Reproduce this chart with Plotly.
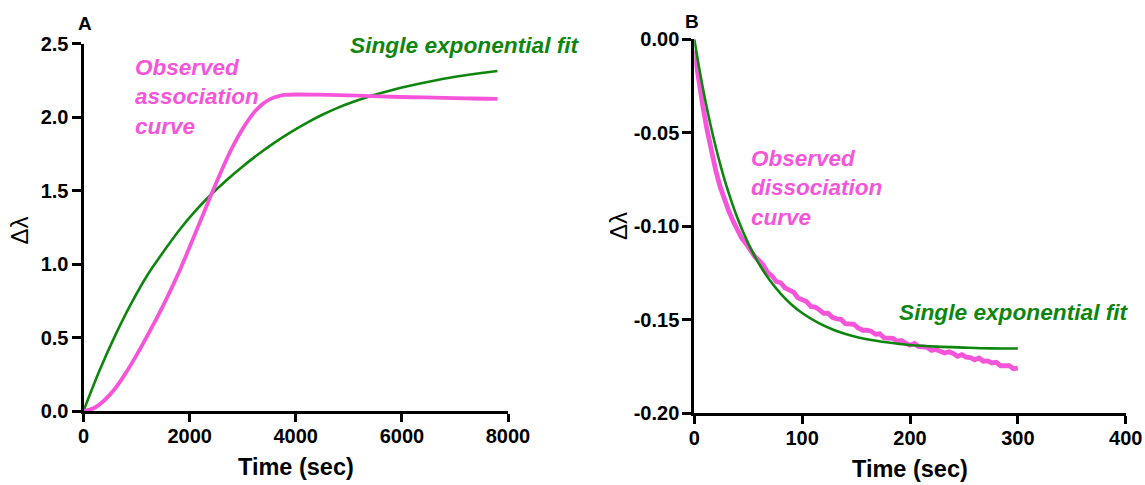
import plotly.graph_objects as go

# ---------------- Data ----------------
# Panel A: association
assoc_obs_t = [0, 200, 400, 600, 800, 1000, 1200, 1400, 1600, 1800, 2000, 2200, 2400,
               2600, 2800, 3000, 3200, 3300, 3400, 3500, 3600, 3700, 3800, 4000, 4400,
               4800, 5200, 5600, 6000, 6400, 6800, 7200, 7600, 7800]
assoc_obs_y = [0, 0.020, 0.075, 0.155, 0.26, 0.38, 0.51, 0.645, 0.79, 0.945, 1.115, 1.29, 1.465,
               1.635, 1.79, 1.92, 2.025, 2.064, 2.095, 2.118, 2.134, 2.144, 2.150, 2.153, 2.152,
               2.149, 2.145, 2.140, 2.136, 2.133, 2.130, 2.127, 2.124, 2.123]

assoc_fit_t = [0, 300, 600, 900, 1200, 1500, 1800, 2100, 2400, 2700, 3000, 3300, 3600,
               3900, 4200, 4500, 4800, 5100, 5400, 5700, 6000, 6300, 6600, 6900, 7200,
               7500, 7800]
assoc_fit_y = [0, 0.274, 0.516, 0.732, 0.922, 1.080, 1.228, 1.358, 1.471, 1.572, 1.664,
               1.748, 1.826, 1.896, 1.959, 2.015, 2.064, 2.105, 2.141, 2.172, 2.200,
               2.225, 2.247, 2.267, 2.284, 2.299, 2.313]

# Panel B: dissociation
dissoc_obs_t = [0, 4, 8, 12, 16, 20, 24, 28, 32, 36, 40, 44, 48, 52, 56, 60, 64, 68, 72, 76,
                80, 84, 88, 92, 96, 100, 104, 108, 112, 116, 120, 124, 128, 132, 136, 140,
                144, 148, 152, 156, 160, 164, 168, 172, 176, 180, 184, 188, 192, 196, 200,
                204, 208, 212, 216, 220, 224, 228, 232, 236, 240, 244, 248, 252, 256, 260,
                264, 268, 272, 276, 280, 284, 288, 292, 296, 300]
dissoc_obs_y = [-0.0060, -0.0220, -0.0360, -0.0490, -0.0605, -0.0705, -0.0790, -0.0860,
                -0.0920, -0.0973, -0.1017, -0.1065, -0.1094, -0.1133, -0.1162, -0.1184,
                -0.1209, -0.1248, -0.1266, -0.1296, -0.1303, -0.1330, -0.1342, -0.1353,
                -0.1384, -0.1396, -0.1403, -0.1430, -0.1433, -0.1448, -0.1467, -0.1466,
                -0.1488, -0.1496, -0.1499, -0.1522, -0.1521, -0.1525, -0.1545, -0.1557,
                -0.1557, -0.1562, -0.1579, -0.1576, -0.1598, -0.1596, -0.1600, -0.1616,
                -0.1612, -0.1626, -0.1637, -0.1628, -0.1645, -0.1646, -0.1649, -0.1665,
                -0.1660, -0.1670, -0.1679, -0.1672, -0.1681, -0.1697, -0.1688, -0.1701,
                -0.1703, -0.1715, -0.1706, -0.1723, -0.1721, -0.1732, -0.1728, -0.1747,
                -0.1744, -0.1747, -0.1763, -0.1760]

dissoc_fit_t = [0, 5, 10, 15, 20, 25, 30, 40, 50, 60, 70, 80, 90, 100, 115, 130, 145, 160,
                180, 200, 225, 250, 275, 300]
dissoc_fit_y = [0, -0.0169, -0.0321, -0.0457, -0.0579, -0.0689, -0.0788, -0.0956, -0.1092,
                -0.1202, -0.1290, -0.1361, -0.1419, -0.1465, -0.1518, -0.1557, -0.1585,
                -0.1605, -0.1623, -0.1636, -0.1645, -0.1650, -0.1654, -0.1655]

# Tick labels
a_xticks = [0, 2000, 4000, 6000, 8000]
a_xlabels = ["0", "2000", "4000", "6000", "8000"]
a_yticks = [0, 0.5, 1.0, 1.5, 2.0, 2.5]
a_ylabels = ["0.0", "0.5", "1.0", "1.5", "2.0", "2.5"]
b_xticks = [0, 100, 200, 300, 400]
b_xlabels = ["0", "100", "200", "300", "400"]
b_yticks = [0, -0.05, -0.10, -0.15, -0.20]
b_ylabels = ["0.00", "-0.05", "-0.10", "-0.15", "-0.20"]

# ---------------- Styling ----------------
PINK = "#F655DA"
GREEN = "#0E860E"
FONT = "Liberation Sans, Arial, sans-serif"
W, H = 1145, 485


def px(x):
    return x / W


def py(y):
    return 1 - y / H


fig = go.Figure()
fig.add_trace(go.Scatter(x=assoc_fit_t, y=assoc_fit_y, mode="lines", line_shape="spline",
                         line=dict(color=GREEN, width=2.6), xaxis="x", yaxis="y",
                         name="Single exponential fit"))
fig.add_trace(go.Scatter(x=assoc_obs_t, y=assoc_obs_y, mode="lines", line_shape="spline",
                         line=dict(color=PINK, width=3.8), xaxis="x", yaxis="y",
                         name="Observed association curve"))
fig.add_trace(go.Scatter(x=dissoc_obs_t, y=dissoc_obs_y, mode="lines",
                         line=dict(color=PINK, width=4.8), xaxis="x2", yaxis="y2",
                         name="Observed dissociation curve"))
fig.add_trace(go.Scatter(x=dissoc_fit_t, y=dissoc_fit_y, mode="lines", line_shape="spline",
                         line=dict(color=GREEN, width=2.6), xaxis="x2", yaxis="y2",
                         name="Single exponential fit"))

axis_common = dict(showline=True, linecolor="black", linewidth=3, ticks="outside",
                   tickwidth=2.5, tickcolor="black", showgrid=False,
                   zeroline=False, automargin=False, mirror=False,
                   tickfont=dict(family=FONT, size=20, color="black", weight="bold"))
xstyle = dict(ticklen=8, ticklabelstandoff=-3, **axis_common)
ystyle = dict(ticklen=9, ticklabelstandoff=-1, **axis_common)

fig.update_layout(
    width=W, height=H,
    margin=dict(l=0, r=0, t=0, b=0),
    paper_bgcolor="white", plot_bgcolor="white",
    showlegend=False,
    xaxis=dict(domain=[px(83.5), px(508)], range=[0, 8000], anchor="y",
               tickvals=a_xticks, ticktext=a_xlabels, **xstyle),
    yaxis=dict(domain=[py(411), py(43.5)], range=[0, 2.5], anchor="x",
               tickvals=a_yticks, ticktext=a_ylabels, **ystyle),
    xaxis2=dict(domain=[px(694.3), px(1125.7)], range=[0, 400], anchor="y2",
                tickvals=b_xticks, ticktext=b_xlabels, **xstyle),
    yaxis2=dict(domain=[py(413), py(39.3)], range=[-0.20, 0.0], anchor="x2",
                tickvals=b_yticks, ticktext=b_ylabels, **ystyle),
)

ann = []
bold = dict(family=FONT, color="black", weight="bold")
# Panel letters
ann.append(dict(text="A", x=px(84.5), y=py(23), font=dict(size=19, **bold)))
ann.append(dict(text="B", x=px(691.5), y=py(22), font=dict(size=19, **bold)))
# Axis titles
ann.append(dict(text="Time (sec)", x=px(296), y=py(467), font=dict(size=23.5, **bold)))
ann.append(dict(text="Time (sec)", x=px(910), y=py(469), font=dict(size=23.5, **bold)))
ann.append(dict(text="Δλ", x=px(18.5), y=py(231), textangle=-90,
                font=dict(family=FONT, size=24, color="black")))
ann.append(dict(text="Δλ", x=px(618), y=py(226), textangle=-90,
                font=dict(family=FONT, size=24, color="black")))
# Curve labels
lab_pink = dict(family=FONT, size=22.5, color=PINK, weight="bold", style="italic")
lab_green = dict(family=FONT, size=22.7, color=GREEN, weight="bold", style="italic")
ann.append(dict(text="Observed<br>association<br>curve", x=px(133), y=py(97),
                xanchor="left", align="left", font=lab_pink))
ann.append(dict(text="Single exponential fit", x=px(464.5), y=py(45), font=lab_green))
ann.append(dict(text="Observed<br>dissociation<br>curve", x=px(749), y=py(188),
                xanchor="left", align="left", font=lab_pink))
ann.append(dict(text="Single exponential fit", x=px(1014), y=py(312), font=lab_green))

for a in ann:
    a.setdefault("xanchor", "center")
    a.update(xref="paper", yref="paper", yanchor="middle", showarrow=False)
fig.update_layout(annotations=ann)

fig.write_html("out.html")
